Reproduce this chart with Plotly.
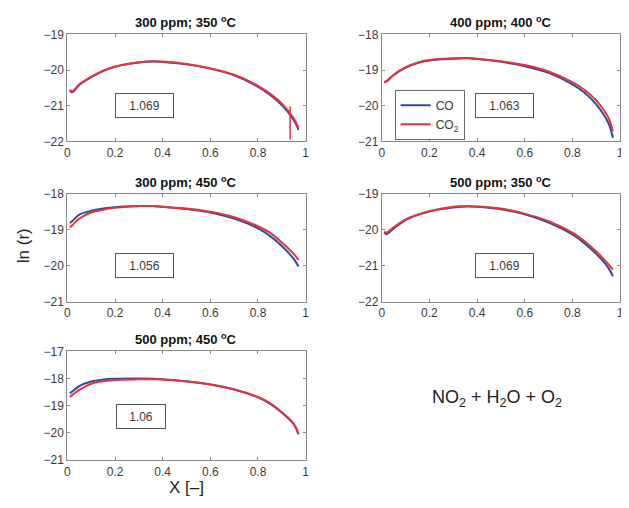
import plotly.graph_objects as go

# ---------------- data ----------------
X_GRID = [0.01, 0.02, 0.05, 0.1, 0.15, 0.2, 0.3, 0.36, 0.4, 0.5, 0.6, 0.7, 0.8, 0.85, 0.9, 0.95, 0.97]

titles = ["300 ppm; 350 <sup>o</sup>C", "400 ppm; 400 <sup>o</sup>C", "300 ppm; 450 <sup>o</sup>C",
          "500 ppm; 350 <sup>o</sup>C", "500 ppm; 450 <sup>o</sup>C"]
ratios = ["1.069", "1.063", "1.056", "1.069", "1.06"]

co_1 = [-20.57, -20.62, -20.42, -20.2, -20.03, -19.91, -19.79, -19.76, -19.77, -19.84, -19.96, -20.15, -20.47, -20.69, -20.98, -21.4, -21.68]
co2_1 = [-20.55, -20.6, -20.4, -20.19, -20.02, -19.9, -19.78, -19.75, -19.76, -19.83, -19.95, -20.13, -20.44, -20.66, -20.94, -21.35, -21.62]
co2_1_spike_x = [0.935, 0.935]
co2_1_spike_y = [-21.02, -21.95]

co_2 = [-19.34, -19.32, -19.14, -18.93, -18.8, -18.73, -18.68, -18.67, -18.69, -18.77, -18.89, -19.08, -19.4, -19.63, -19.96, -20.47, -20.9]
co2_2 = [-19.34, -19.31, -19.13, -18.92, -18.79, -18.72, -18.67, -18.66, -18.68, -18.75, -18.86, -19.04, -19.34, -19.55, -19.85, -20.32, -20.72]

co_3 = [-18.81, -18.76, -18.58, -18.47, -18.41, -18.37, -18.34, -18.34, -18.36, -18.42, -18.52, -18.69, -18.96, -19.17, -19.45, -19.81, -20.02]
co2_3 = [-18.93, -18.88, -18.69, -18.52, -18.44, -18.39, -18.34, -18.34, -18.36, -18.41, -18.5, -18.65, -18.9, -19.08, -19.35, -19.67, -19.84]

co_4 = [-20.08, -20.12, -19.96, -19.73, -19.59, -19.49, -19.38, -19.35, -19.36, -19.43, -19.57, -19.8, -20.13, -20.37, -20.67, -21.05, -21.29]
co2_4 = [-20.05, -20.08, -19.93, -19.71, -19.58, -19.48, -19.36, -19.34, -19.35, -19.41, -19.55, -19.76, -20.08, -20.31, -20.6, -20.95, -21.11]

co_5 = [-18.54, -18.48, -18.28, -18.11, -18.04, -18.01, -18.0, -18.01, -18.03, -18.1, -18.22, -18.4, -18.69, -18.92, -19.25, -19.68, -20.05]
co2_5 = [-18.67, -18.61, -18.42, -18.19, -18.1, -18.05, -18.03, -18.03, -18.04, -18.11, -18.22, -18.4, -18.68, -18.9, -19.24, -19.66, -20.02]

y_ranges = [[-22, -19], [-21, -18], [-21, -18], [-22, -19], [-21, -17]]
x_ticks = [0, 0.2, 0.4, 0.6, 0.8, 1]

co_series = [co_1, co_2, co_3, co_4, co_5]
co2_series = [co2_1, co2_2, co2_3, co2_4, co2_5]

# ---------------- layout geometry (screen pixels) ----------------
OFF = 8                  # page body margin in the browser
W, H = 629 - OFF, 508 - OFF


def px(sx):
    return (sx - OFF) / W


def py(sy):
    return 1 - (sy - OFF) / H


boxes = [(65, 306, 28, 138), (383, 624, 28, 138), (65, 306, 192, 303),
         (383, 624, 192, 303), (65, 306, 354, 466)]
ann_boxes = [(143.5, 101.5, 53), (507.5, 101.5, 53), (143.5, 265.5, 53),
             (507.5, 265.5, 53), (139, 421.5, 44)]

BLUE = "#2b4c9b"
RED = "#e8323c"
AX = "#8a8a8a"
TXT = "#3a3a3a"
FONT = "Liberation Sans"

fig = go.Figure()
layout = {}
annotations = []
for i in range(5):
    n = "" if i == 0 else str(i + 1)
    x0, x1, y0, y1 = boxes[i]
    layout["xaxis" + n] = dict(
        domain=[px(x0), px(x1)], anchor="y" + n, range=[0, 1], tickvals=x_ticks,
        ticks="inside", ticklen=3, tickcolor=AX, showline=True, linecolor=AX, linewidth=1,
        mirror="ticks", showgrid=False, zeroline=False, ticklabeloverflow="allow",
        tickfont=dict(size=12, color=TXT, family=FONT))
    layout["yaxis" + n] = dict(
        domain=[py(y1), py(y0)], anchor="x" + n, range=y_ranges[i], dtick=1,
        ticks="inside", ticklen=3, tickcolor=AX, showline=True, linecolor=AX, linewidth=1,
        mirror="ticks", showgrid=False, zeroline=False,
        tickfont=dict(size=12, color=TXT, family=FONT))
    xa, ya = "x" + n, "y" + n
    fig.add_trace(go.Scatter(x=X_GRID, y=co_series[i], mode="lines", xaxis=xa, yaxis=ya,
                             line=dict(color=BLUE, width=2, shape="spline", smoothing=1.0),
                             name="CO", showlegend=(i == 1)))
    fig.add_trace(go.Scatter(x=X_GRID, y=co2_series[i], mode="lines", xaxis=xa, yaxis=ya,
                             line=dict(color=RED, width=2, shape="spline", smoothing=1.0),
                             name="CO<sub>2</sub>", showlegend=(i == 1)))
    if i == 0:
        fig.add_trace(go.Scatter(x=co2_1_spike_x, y=co2_1_spike_y, mode="lines", xaxis=xa, yaxis=ya,
                                 line=dict(color=RED, width=1.5), showlegend=False))
    # title
    annotations.append(dict(text="<b>" + titles[i] + "</b>", x=px((x0 + x1) / 2), y=py(y0 - 2),
                            xref="paper", yref="paper", xanchor="center", yanchor="bottom",
                            showarrow=False, font=dict(size=13, color="#111111", family=FONT)))
    cx, cy, bw = ann_boxes[i]
    annotations.append(dict(text=ratios[i], x=px(cx), y=py(cy), xref="paper", yref="paper",
                            xanchor="center", yanchor="middle", showarrow=False,
                            width=bw, height=19, borderpad=2, borderwidth=1, bordercolor="#555555",
                            bgcolor="white", font=dict(size=12, color=TXT, family=FONT)))

annotations.append(dict(text="ln (r)", x=px(20), y=py(245), xref="paper", yref="paper",
                        textangle=-90, showarrow=False, xanchor="center", yanchor="middle",
                        font=dict(size=17, color="#222222", family=FONT)))
annotations.append(dict(text="X [–]", x=px(185), y=py(494), xref="paper", yref="paper",
                        showarrow=False, xanchor="center", yanchor="middle",
                        font=dict(size=17, color="#222222", family=FONT)))
annotations.append(dict(text="NO<sub>2</sub> + H<sub>2</sub>O + O<sub>2</sub>", x=px(500), y=py(403),
                        xref="paper", yref="paper", showarrow=False, xanchor="center", yanchor="middle",
                        font=dict(size=18, color="#222222", family=FONT)))

fig.update_layout(
    width=W, height=H, margin=dict(l=0, r=0, t=0, b=0),
    paper_bgcolor="white", plot_bgcolor="white",
    showlegend=True,
    legend=dict(x=px(396), y=py(85), xanchor="left", yanchor="top",
                bgcolor="white", bordercolor="#666666", borderwidth=1,
                font=dict(size=12, color=TXT, family=FONT), tracegroupgap=0,
                itemwidth=30),
    annotations=annotations,
    **layout)

fig.write_html("out.html")
